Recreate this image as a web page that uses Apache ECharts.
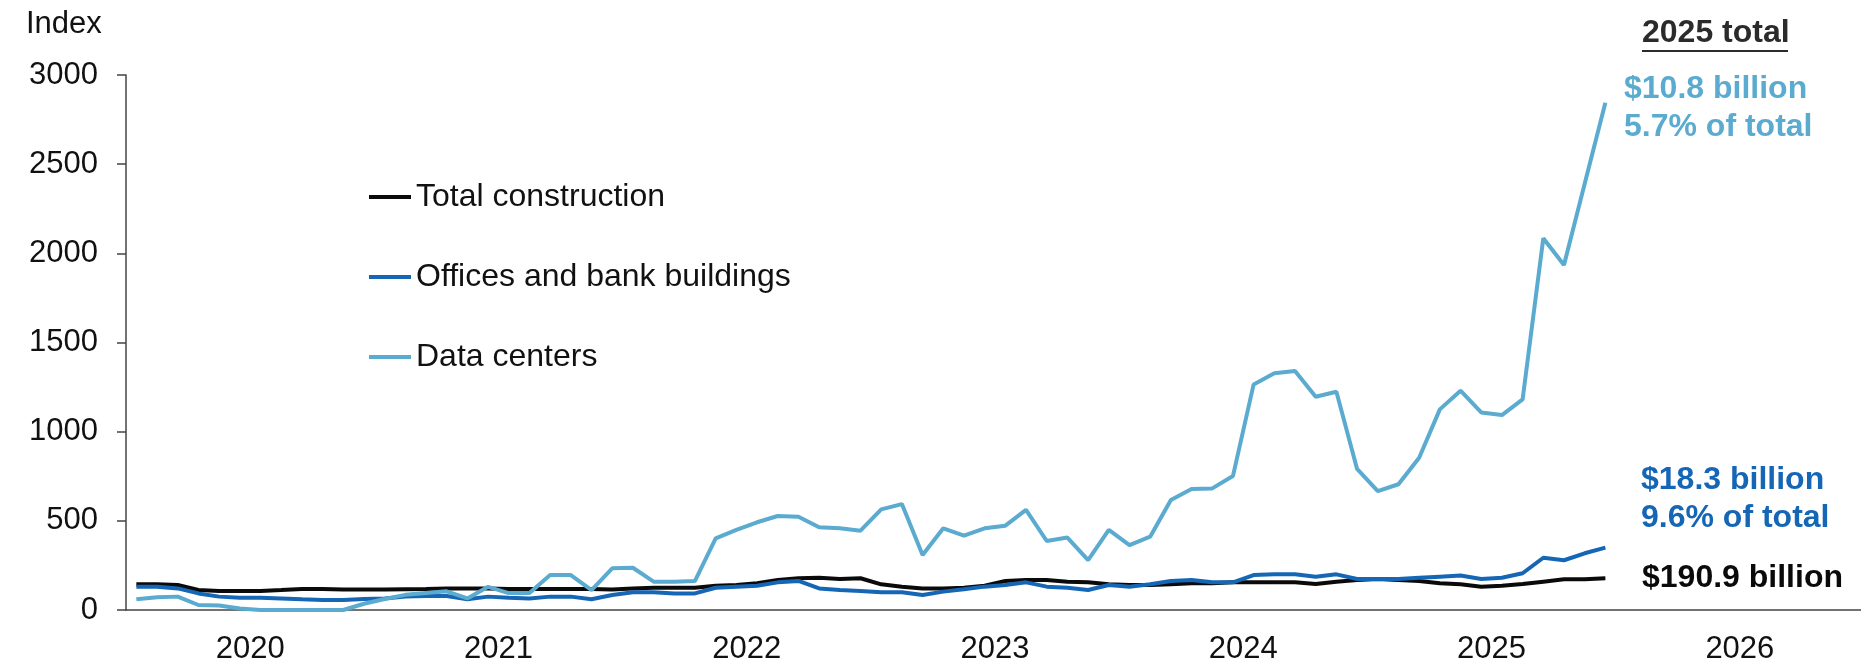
<!DOCTYPE html>
<html>
<head>
<meta charset="utf-8">
<script src="https://cdn.jsdelivr.net/npm/echarts@6/dist/echarts.min.js"></script>
<style>
	html,body{margin:0;padding:0;background:#fff;}
	#main{width:1861px;height:661px;}
</style>
</head>
<body>
<div id="main"></div>

<script type="text/javascript">
	var years = ["2020","2021","2022","2023","2024","2025","2026"];

	// monthly index, Jan 2020 - Dec 2025
	var totalConstruction = [
		144,144,140,112,107,107,107,112,118,118,115,115,
		115,117,118,120,120,120,118,118,118,118,118,115,
		121,125,125,125,136,140,150,168,178,181,174,178,
		144,131,121,121,125,136,163,168,168,159,155,144,
		140,140,144,150,150,155,155,155,155,146,159,168,
		174,168,163,150,144,131,136,146,159,172,172,178
	];
	var offices = [
		131,131,121,93,75,69,69,65,60,56,56,62,
		65,75,78,78,60,75,69,65,75,75,60,84,
		99,99,93,93,125,131,136,155,163,121,112,107,
		99,99,84,103,116,131,140,155,131,125,112,140,
		131,144,163,168,155,155,196,200,200,187,200,174,
		174,174,181,187,193,174,181,206,293,279,318,350
	];
	var dataCenters = [
		60,72,75,28,25,8,0,0,0,0,0,35,
		62,85,95,105,65,130,95,95,196,196,112,234,
		237,159,159,163,402,449,492,527,523,464,458,445,
		564,594,308,458,417,458,473,561,387,406,280,449,
		364,411,617,679,682,751,1265,1327,1340,1196,1224,791,
		667,705,854,1125,1230,1108,1093,1181,2085,1935,2390,2845
	];

	// month categories, the axis runs to the end of 2026
	var months = [];
	years.forEach(function(y){
		for(var m=1;m<=12;m++){
			months.push(y+"-"+(m<10?"0"+m:m));
		}
	});

	var font = "Liberation Sans";
	var cLight = "#5aabcf";
	var cBlue = "#1666b6";
	var cBlack = "#0a0a0a";
	var cAxis = "#444";

	var myChart = echarts.init(document.getElementById("main"));

	var option = {
		animation:false,
		grid:{left:126,right:-3,top:75,bottom:51,containLabel:false,outerBoundsMode:'none'},
		legend:{
			orient:'vertical',
			left:369,
			top:181,
			padding:0,
			icon:'rect',
			itemWidth:42,
			itemHeight:4,
			itemGap:48,
			textStyle:{fontFamily:font,fontSize:32,lineHeight:32,color:"#111"},
			data:['Total construction','Offices and bank buildings','Data centers']
		},
		xAxis:[
			{
				type:'category',
				data:months,
				boundaryGap:true,
				show:false
			},
			{
				type:'category',
				data:years,
				position:'bottom',
				boundaryGap:true,
				axisLine:{lineStyle:{color:cAxis,width:1.5}},
				axisTick:{length:9,lineStyle:{color:cAxis,width:1.5}},
				axisLabel:{fontFamily:font,fontSize:31,color:"#111",margin:24},
				splitLine:{show:false}
			}
		],
		yAxis:{
			type:'value',
			min:0,
			max:3000,
			interval:500,
			axisLine:{show:true,lineStyle:{color:cAxis,width:1.5}},
			axisTick:{show:true,length:9,lineStyle:{color:cAxis,width:1.5}},
			axisLabel:{fontFamily:font,fontSize:31,color:"#111",margin:28,formatter:function(v){return String(v);}},
			splitLine:{show:false}
		},
		series:[
			{
				name:'Total construction',
				type:'line',
				xAxisIndex:0,
				symbol:'none',
				color:cBlack,
				lineStyle:{width:4,color:cBlack},
				data:totalConstruction
			},
			{
				name:'Offices and bank buildings',
				type:'line',
				xAxisIndex:0,
				symbol:'none',
				color:cBlue,
				lineStyle:{width:4,color:cBlue},
				data:offices
			},
			{
				name:'Data centers',
				type:'line',
				xAxisIndex:0,
				symbol:'none',
				color:cLight,
				lineStyle:{width:4,color:cLight},
				data:dataCenters
			}
		],
		graphic:[
			{type:'text',style:{x:26,y:24,text:'Index',font:'31px '+font,fill:'#111',verticalAlign:'middle'}},
			// 2025 totals
			{type:'text',style:{x:1642,y:33,text:'2025 total',font:'bold 32px '+font,fill:'#2b2b2b',verticalAlign:'middle'}},
			{type:'line',shape:{x1:1642,y1:51,x2:1788,y2:51},style:{stroke:'#2b2b2b',lineWidth:2}},
			{type:'text',style:{x:1624,y:89,text:'$10.8 billion',font:'bold 32px '+font,fill:cLight,verticalAlign:'middle'}},
			{type:'text',style:{x:1624,y:127,text:'5.7% of total',font:'bold 32px '+font,fill:cLight,verticalAlign:'middle'}},
			{type:'text',style:{x:1641,y:480,text:'$18.3 billion',font:'bold 32px '+font,fill:cBlue,verticalAlign:'middle'}},
			{type:'text',style:{x:1641,y:518,text:'9.6% of total',font:'bold 32px '+font,fill:cBlue,verticalAlign:'middle'}},
			{type:'text',style:{x:1642,y:578,text:'$190.9 billion',font:'bold 32px '+font,fill:cBlack,verticalAlign:'middle'}}
		]
	};

	myChart.setOption(option);
</script>
</body>
</html>
